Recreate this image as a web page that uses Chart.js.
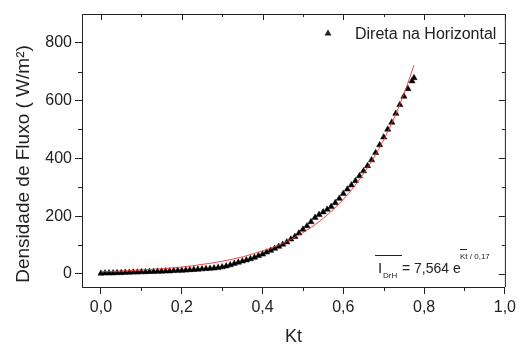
<!DOCTYPE html>
<html>
<head>
<meta charset="utf-8">
<script src="https://cdn.jsdelivr.net/npm/chart.js@4"></script>
<style>
  html, body { margin: 0; padding: 0; background: #fff; }
  #wrap { width: 520px; height: 346px; }
</style>
</head>
<body>
<div id="wrap"><canvas id="myCanvas" width="520" height="346"></canvas></div>
<script>
// Kt values of the measured points
const kt = [
  0.00, 0.01, 0.02, 0.03, 0.04, 0.05, 0.06, 0.07, 0.08, 0.09,
  0.10, 0.11, 0.12, 0.13, 0.14, 0.15, 0.16, 0.17, 0.18, 0.19,
  0.20, 0.21, 0.22, 0.23, 0.24, 0.25, 0.26, 0.27, 0.28, 0.29,
  0.30, 0.31, 0.32, 0.33, 0.34, 0.35, 0.36, 0.37, 0.38, 0.39,
  0.40, 0.41, 0.42, 0.43, 0.44, 0.45, 0.46, 0.47, 0.48, 0.49,
  0.50, 0.51, 0.52, 0.53, 0.54, 0.55, 0.56, 0.57, 0.58, 0.59,
  0.60, 0.61, 0.62, 0.63, 0.64, 0.65, 0.66, 0.67, 0.68, 0.69,
  0.70, 0.71, 0.72, 0.73, 0.74, 0.75, 0.76, 0.77, 0.775
];

// Direta na Horizontal (W/m2)
const direta = [
  2, 3, 3, 3, 4, 4, 5, 5, 6, 6,
  7, 7, 8, 8, 9, 9, 10, 10, 11, 12,
  12, 13, 14, 15, 16, 17, 18, 19, 20, 22,
  24, 27, 31, 36, 40, 44, 48, 52, 57, 63,
  68, 75, 81, 88, 95, 102, 110, 120, 129, 141,
  154, 166, 180, 195, 205, 214, 223, 233, 246, 261,
  278, 293, 307, 322, 339, 356, 374, 394, 419, 446,
  473, 500, 524, 555, 585, 614, 640, 667, 678
];

// red fitted curve
const fitKt = [0, 0.05, 0.1, 0.15, 0.2, 0.25, 0.3, 0.35, 0.4, 0.45, 0.5, 0.55, 0.6, 0.625, 0.65, 0.675, 0.7, 0.725, 0.75, 0.775];
const fitVal = [8, 10, 14, 18, 24, 33, 44, 59, 80, 106, 143, 192, 258, 299, 347, 401, 464, 537, 622, 722];

const xTicks = [0, 0.1, 0.2, 0.3, 0.4, 0.5, 0.6, 0.7, 0.8, 0.9, 1.0];
const yTicks = [0, 100, 200, 300, 400, 500, 600, 700, 800];

const FONT = "'Liberation Sans', Arial, sans-serif";
const INK = "#222";

function isMajorX(v) { return Math.round(v * 10) % 2 === 0; }
function isMajorY(v) { return Math.round(v) % 200 === 0; }

// frame, minor ticks, inner ticks, legend, titles and equation
const extras = {
  id: "extras",
  afterDraw(chart) {
    const ctx = chart.ctx;
    const a = chart.chartArea;
    const xs = chart.scales.x;
    const ys = chart.scales.y;
    ctx.save();
    ctx.strokeStyle = INK;
    ctx.lineWidth = 1;

    // top and right frame
    ctx.beginPath();
    ctx.moveTo(a.left, a.top + 0.5);
    ctx.lineTo(a.right + 0.5, a.top + 0.5);
    ctx.lineTo(a.right + 0.5, a.bottom);
    ctx.stroke();

    ctx.beginPath();
    xTicks.forEach(v => {
      const px = Math.round(xs.getPixelForValue(v)) + 0.5;
      const major = isMajorX(v);
      if (!major) {
        ctx.moveTo(px, a.bottom);
        ctx.lineTo(px, a.bottom + 4);
      }
      ctx.moveTo(px, a.top);
      ctx.lineTo(px, a.top + (major ? 6 : 3));
    });
    yTicks.forEach(v => {
      const py = Math.round(ys.getPixelForValue(v)) + 0.5;
      const major = isMajorY(v);
      if (!major) {
        ctx.moveTo(a.left, py);
        ctx.lineTo(a.left - 4, py);
      }
      ctx.moveTo(a.right, py);
      ctx.lineTo(a.right - (major ? 6 : 3), py);
    });
    ctx.stroke();

    // y axis title
    ctx.fillStyle = INK;
    ctx.save();
    ctx.translate(24, 164);
    ctx.rotate(-Math.PI / 2);
    ctx.font = "19px " + FONT;
    ctx.textAlign = "center";
    ctx.textBaseline = "middle";
    ctx.fillText("Densidade de Fluxo ( W/m\u00B2)", 0, 0);
    ctx.restore();

    // legend
    ctx.beginPath();
    ctx.moveTo(328, 29.5);
    ctx.lineTo(331.5, 35.5);
    ctx.lineTo(324.5, 35.5);
    ctx.closePath();
    ctx.fill();
    ctx.font = "16px " + FONT;
    ctx.textAlign = "left";
    ctx.textBaseline = "middle";
    ctx.fillText("Direta na Horizontal", 355, 35);

    // fitted equation
    ctx.textBaseline = "alphabetic";
    ctx.beginPath();
    ctx.moveTo(375, 255.5);
    ctx.lineTo(402, 255.5);
    ctx.moveTo(460, 249.5);
    ctx.lineTo(467, 249.5);
    ctx.stroke();
    ctx.font = "15px " + FONT;
    ctx.fillText("I", 378, 273);
    ctx.font = "8px " + FONT;
    ctx.fillText("DrH", 383, 278);
    ctx.font = "14px " + FONT;
    ctx.fillText("= 7,564 e", 402, 273);
    ctx.font = "8px " + FONT;
    ctx.fillText("Kt / 0,17", 460, 259);

    ctx.restore();
  }
};

function createChart() {
  const canvas = document.getElementById("myCanvas");
  const ctx = canvas.getContext("2d");

  const points = kt.map((x, i) => ({ x: x, y: direta[i] }));
  const fitPoints = fitKt.map((x, i) => ({ x: x, y: fitVal[i] }));

  new Chart(ctx, {
    type: "scatter",
    data: {
      datasets: [
        {
          label: "Direta na Horizontal",
          data: points,
          pointStyle: "triangle",
          pointRadius: 3.6,
          pointBackgroundColor: "#000",
          pointBorderColor: "#000",
          pointBorderWidth: 0.5,
          order: 2,
        },
        {
          label: "ajuste",
          data: fitPoints,
          showLine: true,
          pointRadius: 0,
          borderColor: "rgba(240, 50, 50, 0.9)",
          borderWidth: 1,
          cubicInterpolationMode: "monotone",
          order: 1,
        },
      ],
    },
    options: {
      responsive: false,
      animation: false,
      layout: { padding: { left: 0, top: 14, right: 15, bottom: 0 } },
      plugins: {
        legend: { display: false },
        tooltip: { enabled: false },
      },
      scales: {
        x: {
          type: "linear",
          min: -0.047,
          max: 1.0,
          afterBuildTicks: s => { s.ticks = xTicks.map(v => ({ value: v })); },
          afterFit: s => { s.height = 59; },
          border: { display: true, color: INK, width: 1 },
          grid: {
            drawOnChartArea: false,
            drawTicks: true,
            tickLength: 7,
            tickColor: c => (c.tick && isMajorX(c.tick.value) ? INK : "transparent"),
          },
          ticks: {
            autoSkip: false,
            maxRotation: 0,
            padding: 4,
            color: INK,
            font: { family: FONT, size: 16 },
            callback: v => (isMajorX(v) ? v.toFixed(1).replace(".", ",") : ""),
          },
          title: {
            display: true,
            text: "Kt",
            color: INK,
            font: { family: FONT, size: 18, lineHeight: 1 },
            padding: { top: 0, bottom: 0 },
          },
        },
        y: {
          type: "linear",
          min: -45,
          max: 899,
          afterBuildTicks: s => { s.ticks = yTicks.map(v => ({ value: v })); },
          afterFit: s => { s.width = 82; },
          border: { display: true, color: INK, width: 1 },
          grid: {
            drawOnChartArea: false,
            drawTicks: true,
            tickLength: 7,
            tickColor: c => (c.tick && isMajorY(c.tick.value) ? INK : "transparent"),
          },
          ticks: {
            autoSkip: false,
            padding: 3,
            color: INK,
            font: { family: FONT, size: 16 },
            callback: v => (isMajorY(v) ? String(v) : ""),
          },
        },
      },
    },
    plugins: [extras],
  });
}

createChart();
</script>
</body>
</html>
